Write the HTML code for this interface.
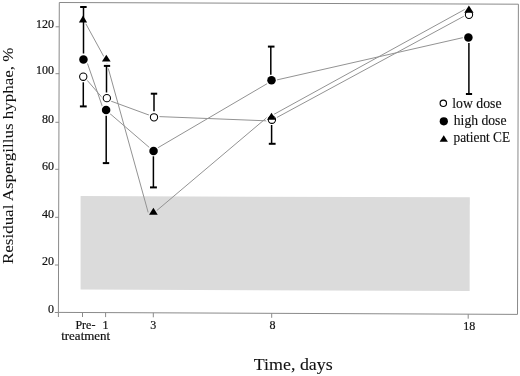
<!DOCTYPE html>
<html><head><meta charset="utf-8"><style>
html,body{margin:0;padding:0;background:#fff;width:520px;height:376px;overflow:hidden}
svg{display:block}
text{font-family:"Liberation Serif","DejaVu Serif",serif;fill:#111;stroke:#111;stroke-width:0.2px}
.yl{font-size:12px}
.xl{font-size:12px}
.lg{font-size:15.3px;stroke-width:0.15px}
.tt{font-size:17.5px;stroke-width:0.1px}
.yt{font-size:15px;stroke-width:0.05px}
</style></head><body>
<svg width="520" height="376" viewBox="0 0 520 376">
<polygon points="80.6,196.1 469.8,197.3 469.6,291.1 80.6,289.6" fill="#dbdbdb"/>
<line x1="83.25" y1="75.8" x2="106.85" y2="103.0" stroke="#939393" stroke-width="1"/>
<line x1="106.85" y1="99.6" x2="154.0" y2="116.9" stroke="#939393" stroke-width="1"/>
<line x1="154.0" y1="116.4" x2="271.2" y2="121.0" stroke="#939393" stroke-width="1"/>
<line x1="271.9" y1="120.2" x2="469.0" y2="13.45" stroke="#939393" stroke-width="1"/>
<line x1="86.1" y1="59.55" x2="103.55" y2="109.9" stroke="#939393" stroke-width="1"/>
<line x1="106.1" y1="110.3" x2="153.55" y2="151.1" stroke="#939393" stroke-width="1"/>
<line x1="153.55" y1="150.3" x2="271.5" y2="81.1" stroke="#939393" stroke-width="1"/>
<line x1="271.5" y1="81.15" x2="468.4" y2="36.4" stroke="#939393" stroke-width="1"/>
<line x1="83.5" y1="19.5" x2="104.6" y2="58.0" stroke="#939393" stroke-width="1"/>
<line x1="105.4" y1="58.0" x2="148.2" y2="212.5" stroke="#939393" stroke-width="1"/>
<line x1="153.4" y1="213.4" x2="271.3" y2="113.8" stroke="#939393" stroke-width="1"/>
<line x1="271.5" y1="115.7" x2="468.9" y2="7.15" stroke="#939393" stroke-width="1"/>
<line x1="78.95" y1="7.0" x2="87.85" y2="7.0" stroke="#fff" stroke-width="5"/>
<line x1="78.70" y1="106.4" x2="87.90" y2="106.4" stroke="#fff" stroke-width="5"/>
<line x1="102.65" y1="65.9" x2="111.35" y2="65.9" stroke="#fff" stroke-width="5"/>
<line x1="101.60" y1="163.1" x2="110.40" y2="163.1" stroke="#fff" stroke-width="5"/>
<line x1="149.60" y1="93.7" x2="158.40" y2="93.7" stroke="#fff" stroke-width="5"/>
<line x1="148.80" y1="187.4" x2="158.10" y2="187.4" stroke="#fff" stroke-width="5"/>
<line x1="266.70" y1="46.6" x2="275.70" y2="46.6" stroke="#fff" stroke-width="5"/>
<line x1="267.60" y1="143.8" x2="276.80" y2="143.8" stroke="#fff" stroke-width="5"/>
<line x1="464.70" y1="94.0" x2="473.30" y2="94.0" stroke="#fff" stroke-width="5"/>
<circle cx="83.45" cy="59.55" r="5.65" fill="#fff"/>
<circle cx="106.1" cy="109.9" r="5.65" fill="#fff"/>
<circle cx="153.55" cy="151.05" r="5.65" fill="#fff"/>
<circle cx="271.5" cy="80.35" r="5.65" fill="#fff"/>
<circle cx="468.4" cy="37.4" r="5.65" fill="#fff"/>
<circle cx="83.25" cy="76.7" r="5.574999999999999" fill="#fff"/>
<circle cx="106.85" cy="98.15" r="5.574999999999999" fill="#fff"/>
<circle cx="154.0" cy="117.3" r="5.574999999999999" fill="#fff"/>
<circle cx="271.9" cy="119.7" r="5.574999999999999" fill="#fff"/>
<circle cx="469.0" cy="14.8" r="5.574999999999999" fill="#fff"/>
<path d="M83.0,15.5 L87.10,22.4 L78.90,22.4 Z" fill="#fff" stroke="#fff" stroke-width="2.8" stroke-linejoin="round"/>
<path d="M106.3,54.7 L110.65,61.6 L101.95,61.6 Z" fill="#fff" stroke="#fff" stroke-width="2.8" stroke-linejoin="round"/>
<path d="M153.4,207.8 L157.75,214.7 L149.05,214.7 Z" fill="#dbdbdb" stroke="#dbdbdb" stroke-width="2.8" stroke-linejoin="round"/>
<path d="M271.5,112.7 L275.90,119.8 L267.10,119.8 Z" fill="#fff" stroke="#fff" stroke-width="2.8" stroke-linejoin="round"/>
<path d="M468.9,5.4 L473.55,12.7 L464.25,12.7 Z" fill="#fff" stroke="#fff" stroke-width="2.8" stroke-linejoin="round"/>
<line x1="83.5" y1="7.0" x2="83.5" y2="53.5" stroke="#000" stroke-width="1.5"/>
<line x1="80.15" y1="7.0" x2="86.65" y2="7.0" stroke="#000" stroke-width="2"/>
<line x1="83.3" y1="82.3" x2="83.3" y2="106.4" stroke="#000" stroke-width="1.5"/>
<line x1="79.90" y1="106.4" x2="86.70" y2="106.4" stroke="#000" stroke-width="2"/>
<line x1="106.5" y1="65.9" x2="106.5" y2="92.5" stroke="#000" stroke-width="1.5"/>
<line x1="103.85" y1="65.9" x2="110.15" y2="65.9" stroke="#000" stroke-width="2"/>
<line x1="106.2" y1="115.8" x2="106.2" y2="163.1" stroke="#000" stroke-width="1.5"/>
<line x1="102.80" y1="163.1" x2="109.20" y2="163.1" stroke="#000" stroke-width="2"/>
<line x1="154.0" y1="93.7" x2="154.0" y2="111.3" stroke="#000" stroke-width="1.5"/>
<line x1="150.80" y1="93.7" x2="157.20" y2="93.7" stroke="#000" stroke-width="2"/>
<line x1="153.4" y1="156.3" x2="153.4" y2="187.4" stroke="#000" stroke-width="1.5"/>
<line x1="150.00" y1="187.4" x2="156.90" y2="187.4" stroke="#000" stroke-width="2"/>
<line x1="270.8" y1="46.6" x2="270.8" y2="74.8" stroke="#000" stroke-width="1.5"/>
<line x1="267.90" y1="46.6" x2="274.50" y2="46.6" stroke="#000" stroke-width="2"/>
<line x1="271.6" y1="125.0" x2="271.6" y2="143.8" stroke="#000" stroke-width="1.5"/>
<line x1="268.80" y1="143.8" x2="275.60" y2="143.8" stroke="#000" stroke-width="2"/>
<line x1="468.9" y1="43.1" x2="468.9" y2="94.0" stroke="#000" stroke-width="1.5"/>
<line x1="465.90" y1="94.0" x2="472.10" y2="94.0" stroke="#000" stroke-width="2"/>
<circle cx="83.45" cy="59.55" r="4.25" fill="#000"/>
<circle cx="106.1" cy="109.9" r="4.25" fill="#000"/>
<circle cx="153.55" cy="151.05" r="4.25" fill="#000"/>
<circle cx="271.5" cy="80.35" r="4.25" fill="#000"/>
<circle cx="468.4" cy="37.4" r="4.25" fill="#000"/>
<circle cx="83.25" cy="76.7" r="3.65" fill="#fff" stroke="#000" stroke-width="1.05"/>
<circle cx="106.85" cy="98.15" r="3.65" fill="#fff" stroke="#000" stroke-width="1.05"/>
<circle cx="154.0" cy="117.3" r="3.65" fill="#fff" stroke="#000" stroke-width="1.05"/>
<circle cx="271.9" cy="119.7" r="3.65" fill="#fff" stroke="#000" stroke-width="1.05"/>
<circle cx="469.0" cy="14.8" r="3.65" fill="#fff" stroke="#000" stroke-width="1.05"/>
<path d="M83.0,15.5 L87.10,22.4 L78.90,22.4 Z" fill="#000"/>
<path d="M106.3,54.7 L110.65,61.6 L101.95,61.6 Z" fill="#000"/>
<path d="M153.4,207.8 L157.75,214.7 L149.05,214.7 Z" fill="#000"/>
<path d="M271.5,112.7 L275.90,119.8 L267.10,119.8 Z" fill="#000"/>
<path d="M468.9,5.4 L473.55,12.7 L464.25,12.7 Z" fill="#000"/>
<polygon points="59.3,2.5 518.4,4.2 517.5,314.4 58.4,312.4" fill="none" stroke="#8a8a8a" stroke-width="1"/>
<line x1="55.6" y1="26.8" x2="59.2" y2="26.8" stroke="#8a8a8a" stroke-width="1"/>
<text x="54.1" y="28.0" class="yl" text-anchor="end">120</text>
<line x1="55.5" y1="73.7" x2="59.1" y2="73.7" stroke="#8a8a8a" stroke-width="1"/>
<text x="54.1" y="74.2" class="yl" text-anchor="end">100</text>
<line x1="55.4" y1="122.3" x2="59.0" y2="122.3" stroke="#8a8a8a" stroke-width="1"/>
<text x="54.1" y="122.5" class="yl" text-anchor="end">80</text>
<line x1="55.2" y1="169.3" x2="58.8" y2="169.3" stroke="#8a8a8a" stroke-width="1"/>
<text x="54.1" y="169.8" class="yl" text-anchor="end">60</text>
<line x1="55.1" y1="217.3" x2="58.7" y2="217.3" stroke="#8a8a8a" stroke-width="1"/>
<text x="54.1" y="217.8" class="yl" text-anchor="end">40</text>
<line x1="54.9" y1="265.0" x2="58.5" y2="265.0" stroke="#8a8a8a" stroke-width="1"/>
<text x="54.1" y="265.0" class="yl" text-anchor="end">20</text>
<line x1="54.8" y1="312.5" x2="58.4" y2="312.5" stroke="#8a8a8a" stroke-width="1"/>
<text x="54.1" y="312.8" class="yl" text-anchor="end">0</text>
<line x1="82.5" y1="312.5" x2="82.5" y2="317.0" stroke="#8a8a8a" stroke-width="1"/>
<line x1="105.6" y1="312.6" x2="105.6" y2="317.1" stroke="#8a8a8a" stroke-width="1"/>
<text x="105.5" y="328.78" class="xl" text-anchor="middle">1</text>
<line x1="153.3" y1="312.8" x2="153.3" y2="317.3" stroke="#8a8a8a" stroke-width="1"/>
<text x="153.2" y="328.95" class="xl" text-anchor="middle">3</text>
<line x1="271.7" y1="313.3" x2="271.7" y2="317.8" stroke="#8a8a8a" stroke-width="1"/>
<text x="272.5" y="329.37" class="xl" text-anchor="middle">8</text>
<line x1="468.2" y1="314.2" x2="468.2" y2="318.7" stroke="#8a8a8a" stroke-width="1"/>
<text x="469.2" y="330.06" class="xl" text-anchor="middle">18</text>
<line x1="58.4" y1="312.4" x2="58.4" y2="317" stroke="#8a8a8a" stroke-width="1"/>
<text x="85.4" y="328.7" class="xl" text-anchor="middle">Pre-</text>
<text x="61.2" y="339.7" class="xl" textLength="49" lengthAdjust="spacingAndGlyphs">treatment</text>
<circle cx="443.3" cy="103.3" r="3.2" fill="#fff" stroke="#000" stroke-width="1.15"/>
<circle cx="443.8" cy="121.3" r="4.1" fill="#000"/>
<path d="M443.75,135.2 L447.9,141.8 L439.6,141.8 Z" fill="#000"/>
<text x="452.2" y="107.5" class="lg" textLength="49.3" lengthAdjust="spacingAndGlyphs">low dose</text>
<text x="453.8" y="125.3" class="lg" textLength="52.7" lengthAdjust="spacingAndGlyphs">high dose</text>
<text x="453.5" y="142.1" class="lg" textLength="56.6" lengthAdjust="spacingAndGlyphs">patient CE</text>
<text x="253.8" y="370.0" class="tt" textLength="78.9" lengthAdjust="spacingAndGlyphs">Time, days</text>
<text transform="translate(12.8,264) rotate(-90)" x="0" y="0" class="yt" textLength="216.4" lengthAdjust="spacingAndGlyphs">Residual Aspergillus hyphae, %</text>
</svg>
</body></html>
